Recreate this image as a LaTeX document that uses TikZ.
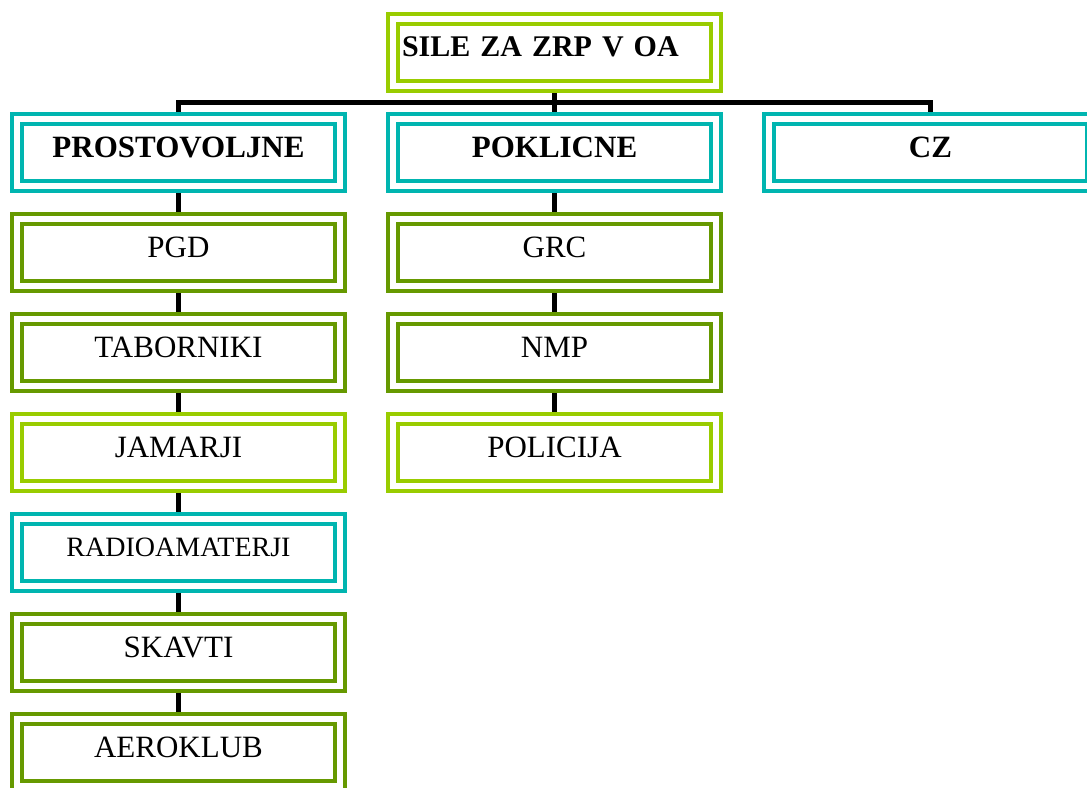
\documentclass[tikz,border=0pt]{standalone}
\usepackage{fontspec}
\setmainfont{Liberation Serif}
\definecolor{teal1}{RGB}{0,181,176}
\definecolor{olive1}{RGB}{102,153,0}
\definecolor{lime1}{RGB}{153,204,0}
\begin{document}
\begin{tikzpicture}[x=0.4pt,y=-0.4pt,
  box/.style={draw=#1, line width=1.6pt, double=white, double distance=2.4pt,
    minimum width=129.2pt, minimum height=26.8pt, inner sep=0pt, outer sep=2.8pt,
    text height=8pt, text depth=4pt, font=\fontsize{12.4pt}{14pt}\selectfont},
  conn/.style={draw=black, line width=2pt}]
\useasboundingbox (0,0) rectangle (1087,787);
% top
\node[box=lime1, text width=122pt, align=left, text depth=5pt, font=\fontsize{12pt}{14pt}\selectfont\bfseries] (sile) at (554.5,52.5) {SILE ZA ZRP V OA};
% second row
\node[box=teal1, font=\fontsize{12.4pt}{14pt}\selectfont\bfseries] (prost) at (178.5,152.5) {PROSTOVOLJNE};
\node[box=teal1, font=\fontsize{12.4pt}{14pt}\selectfont\bfseries] (poklic) at (554.5,152.5) {POKLICNE};
\node[box=teal1, font=\fontsize{12.4pt}{14pt}\selectfont\bfseries] (cz) at (930.5,152.5) {CZ};
% prostovoljne
\node[box=olive1] (pgd) at (178.5,252.5) {PGD};
\node[box=olive1] (tabor) at (178.5,352.5) {TABORNIKI};
\node[box=lime1] (jamar) at (178.5,452.5) {JAMARJI};
\node[box=teal1, text depth=5pt, font=\fontsize{11.2pt}{13pt}\selectfont] (radio) at (178.5,552.5) {RADIOAMATERJI\hspace{2.4pt}};
\node[box=olive1] (skavti) at (178.5,652.5) {SKAVTI};
\node[box=olive1] (aero) at (178.5,752.5) {AEROKLUB};
% poklicne
\node[box=olive1] (grc) at (554.5,252.5) {GRC};
\node[box=olive1] (nmp) at (554.5,352.5) {NMP};
\node[box=lime1] (polic) at (554.5,452.5) {POLICIJA};
% connectors
\draw[conn] (prost.north) -- ++(0,-10) -| (cz.north);
\draw[conn] (sile.south) -- (poklic.north);
\draw[conn] (prost.south) -- (pgd.north);
\draw[conn] (pgd.south) -- (tabor.north);
\draw[conn] (tabor.south) -- (jamar.north);
\draw[conn] (jamar.south) -- (radio.north);
\draw[conn] (radio.south) -- (skavti.north);
\draw[conn] (skavti.south) -- (aero.north);
\draw[conn] (poklic.south) -- (grc.north);
\draw[conn] (grc.south) -- (nmp.north);
\draw[conn] (nmp.south) -- (polic.north);
\end{tikzpicture}
\end{document}
